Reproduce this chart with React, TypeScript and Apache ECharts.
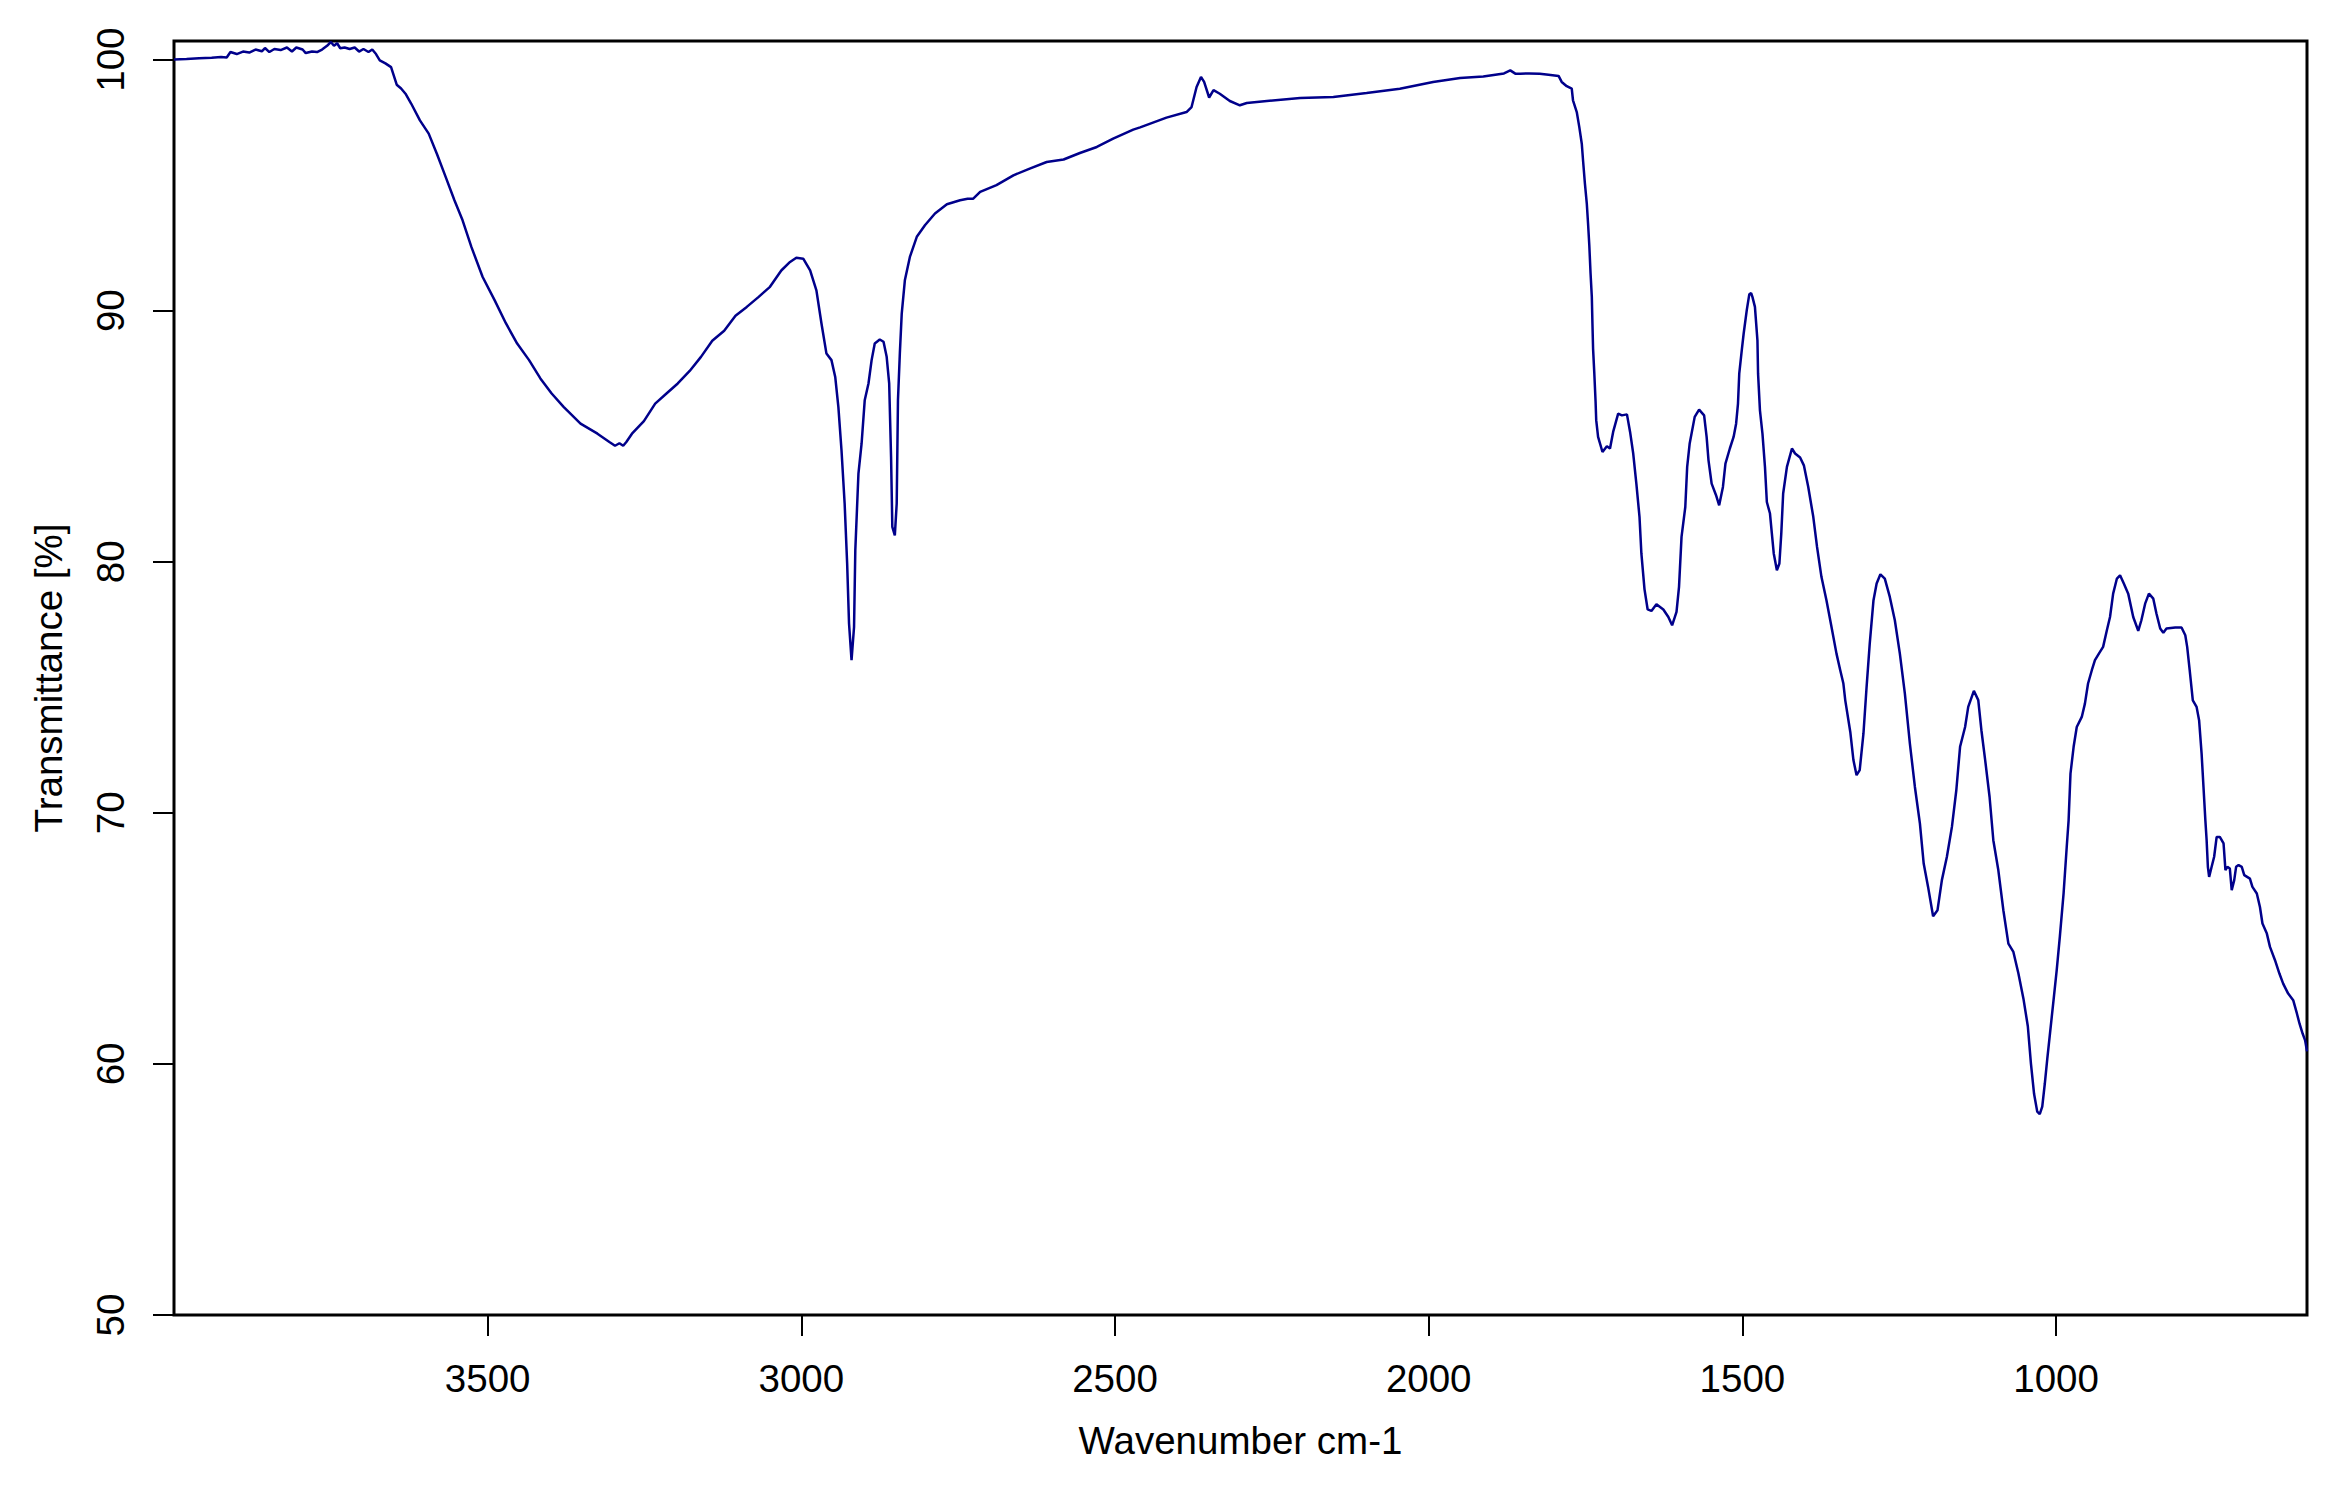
import React, { useEffect, useRef } from "react";
import * as echarts from "echarts";

// Wavenumber (cm-1) and transmittance (%)
const wavenumbers: number[] = [
  4000, 3980, 3960, 3940, 3925, 3916, 3910, 3900, 3890, 3880, 3870, 3860, 3855, 3848, 3840, 3830, 3820, 3812, 3805, 3795,
  3790, 3780, 3772, 3764, 3756, 3750, 3745, 3740, 3735, 3728, 3720, 3712, 3705, 3698, 3690, 3684, 3678, 3672, 3663, 3654,
  3645, 3638, 3631, 3622, 3608, 3594, 3581, 3567, 3553, 3540, 3526, 3508, 3489, 3471, 3453, 3434, 3416, 3398, 3379, 3352,
  3325, 3306, 3297, 3290, 3284, 3279, 3270, 3251, 3233, 3215, 3197, 3178, 3160, 3142, 3123, 3105, 3087, 3068, 3050, 3032,
  3018, 3008, 2997, 2986, 2976, 2968, 2960, 2952, 2946, 2941, 2936, 2931, 2927, 2924, 2920, 2916, 2914, 2909, 2904, 2899,
  2893, 2888, 2883, 2875, 2869, 2864, 2860, 2857, 2855, 2851, 2848, 2846, 2843, 2840, 2835, 2827, 2816, 2803, 2787, 2768,
  2747, 2735, 2726, 2715, 2689, 2662, 2636, 2609, 2582, 2556, 2529, 2503, 2471, 2460, 2418, 2386, 2378, 2370, 2363, 2358,
  2350, 2343, 2333, 2317, 2301, 2290, 2258, 2205, 2152, 2099, 2046, 1993, 1950, 1913, 1880, 1870, 1862, 1854, 1840, 1823,
  1809, 1793, 1788, 1780, 1772, 1770, 1764, 1760, 1756, 1754, 1751, 1748, 1746, 1744, 1742, 1740, 1739, 1738, 1736, 1734,
  1733, 1730, 1723, 1716, 1711, 1706, 1698, 1692, 1684, 1679, 1674, 1669, 1664, 1661, 1656, 1651, 1645, 1637, 1626, 1618,
  1612, 1605, 1601, 1597, 1591, 1588, 1584, 1576, 1569, 1561, 1557, 1554, 1549, 1542, 1537, 1531, 1527, 1520, 1514, 1510,
  1507, 1505, 1501, 1498, 1493, 1489, 1486, 1484, 1480, 1476, 1475, 1472, 1468, 1464, 1461, 1456, 1453, 1450, 1445, 1441,
  1438, 1435, 1429, 1421, 1416, 1408, 1402, 1395, 1387, 1381, 1374, 1366, 1358, 1350, 1344, 1339, 1336, 1328, 1323, 1318,
  1313, 1307, 1302, 1297, 1291, 1286, 1280, 1273, 1265, 1257, 1249, 1241, 1233, 1225, 1217, 1211, 1204, 1196, 1189, 1182,
  1174, 1166, 1159, 1153, 1145, 1140, 1131, 1124, 1119, 1113, 1106, 1100, 1092, 1084, 1076, 1068, 1060, 1052, 1045, 1040,
  1035, 1030, 1026, 1022, 1018, 1014, 1010, 1004, 999, 994, 988, 983, 980, 977, 972, 967, 959, 954, 949, 943,
  938, 931, 925, 919, 914, 909, 903, 898, 892, 885, 877, 869, 864, 858, 852, 845, 840, 834, 829, 824,
  810, 800, 794, 791, 787, 782, 776, 772, 768, 765, 762, 760, 758, 756, 752, 748, 744, 739, 733, 730,
  727, 723, 720, 716, 713, 709, 704, 700, 691, 687, 680, 675, 671, 664, 659, 651, 644, 638, 630, 622,
  616, 612, 607, 603, 600,
];

const transmittance: number[] = [
  100.0, 100.02, 100.05, 100.07, 100.1, 100.08, 100.3, 100.22, 100.32, 100.28, 100.4, 100.33, 100.46, 100.3, 100.42, 100.38, 100.48, 100.32, 100.48, 100.4,
  100.26, 100.32, 100.3, 100.4, 100.55, 100.7, 100.55, 100.65, 100.45, 100.48, 100.42, 100.48, 100.32, 100.42, 100.3, 100.4, 100.22, 99.97, 99.85, 99.7,
  99.0, 98.85, 98.64, 98.25, 97.58, 97.05, 96.25, 95.33, 94.4, 93.6, 92.54, 91.34, 90.42, 89.5, 88.69, 88.03, 87.3, 86.7, 86.17, 85.5,
  85.1, 84.77, 84.62, 84.72, 84.62, 84.77, 85.1, 85.6, 86.3, 86.7, 87.1, 87.6, 88.16, 88.8, 89.2, 89.8, 90.15, 90.55, 90.95, 91.6,
  91.94, 92.11, 92.07, 91.6, 90.81, 89.5, 88.29, 88.03, 87.36, 86.17, 84.44, 82.32, 79.93, 77.54, 76.08, 77.4, 80.46, 83.51, 84.7, 86.43,
  87.1, 88.03, 88.69, 88.85, 88.76, 88.16, 87.1, 84.17, 81.39, 81.05, 82.32, 86.43, 88.3, 89.88, 91.21, 92.14, 92.94, 93.4, 93.87, 94.24,
  94.4, 94.46, 94.46, 94.73, 95.0, 95.39, 95.66, 95.92, 96.02, 96.28, 96.52, 96.85, 97.21, 97.3, 97.69, 97.91, 98.11, 98.91, 99.31, 99.11,
  98.49, 98.78, 98.64, 98.35, 98.18, 98.27, 98.35, 98.47, 98.51, 98.67, 98.84, 99.11, 99.27, 99.33, 99.45, 99.57, 99.44, 99.44, 99.45, 99.44,
  99.4, 99.35, 99.11, 98.94, 98.84, 98.38, 97.91, 97.32, 96.65, 95.99, 95.06, 94.26, 93.47, 92.6, 91.48, 90.55, 89.48, 88.49, 87.49, 86.37,
  85.64, 84.97, 84.37, 84.6, 84.51, 85.17, 85.9, 85.83, 85.87, 85.17, 84.31, 83.11, 81.79, 80.33, 78.9, 78.1, 78.04, 78.31, 78.1, 77.8,
  77.47, 78.0, 79.0, 80.99, 82.18, 83.78, 84.71, 85.77, 86.06, 85.83, 84.97, 84.04, 83.11, 82.65, 82.25, 82.98, 83.91, 84.51, 84.97, 85.5,
  86.3, 87.49, 88.42, 89.08, 90.02, 90.65, 90.7, 90.55, 90.15, 88.82, 87.49, 86.03, 85.1, 83.78, 82.38, 81.92, 81.12, 80.33, 79.66, 79.93,
  81.12, 82.72, 83.78, 84.51, 84.31, 84.15, 83.84, 82.98, 81.79, 80.59, 79.4, 78.47, 77.41, 76.34, 75.68, 75.15, 74.48, 73.22, 72.1, 71.5,
  71.7, 73.16, 75.02, 76.74, 78.47, 79.13, 79.5, 79.33, 78.6, 77.67, 76.34, 74.75, 72.76, 71.03, 69.57, 67.98, 67.05, 65.88, 66.12, 67.32,
  68.25, 69.44, 70.9, 72.63, 73.42, 74.22, 74.86, 74.49, 73.29, 72.1, 70.64, 68.91, 67.71, 66.12, 64.79, 64.46, 63.6, 62.6, 61.5, 60.0,
  58.8, 58.1, 58.0, 58.3, 59.2, 60.2, 61.14, 62.54, 63.73, 65.06, 66.79, 68.64, 69.7, 71.56, 72.63, 73.42, 73.82, 74.35, 75.15, 75.68,
  76.08, 76.37, 76.61, 77.27, 77.8, 78.73, 79.33, 79.46, 79.13, 78.73, 77.8, 77.25, 77.67, 78.33, 78.73, 78.53, 77.94, 77.34, 77.17, 77.34,
  77.38, 77.38, 77.07, 76.61, 75.68, 74.48, 74.22, 73.69, 72.36, 71.03, 69.7, 68.91, 67.85, 67.45, 67.85, 68.25, 69.04, 69.04, 68.78, 67.72,
  67.85, 67.78, 66.92, 67.32, 67.85, 67.92, 67.85, 67.52, 67.38, 67.05, 66.79, 66.25, 65.59, 65.19, 64.66, 64.13, 63.6, 63.2, 62.8, 62.54,
  62.0, 61.61, 61.21, 60.94, 60.5,
];

const xTickValues: number[] = [1000, 1500, 2000, 2500, 3000, 3500];
const yTickValues: number[] = [50, 60, 70, 80, 90, 100];

const X_MIN = 600;
const X_MAX = 4000;
const Y_MIN = 50;
const Y_MAX = 100.74;

const FONT = "'Liberation Sans', Arial, Helvetica, sans-serif";

export default function App() {
  const ref = useRef<HTMLDivElement | null>(null);

  useEffect(() => {
    if (!ref.current) return;
    const chart = echarts.init(ref.current, null, { renderer: "svg" });
    const data = wavenumbers.map((w, i) => [w, transmittance[i]]);
    chart.setOption({
      animation: false,
      backgroundColor: "#ffffff",
      grid: {
        left: 174,
        right: 28,
        top: 41,
        bottom: 170,
        show: true,
        borderColor: "#000000",
        borderWidth: 3,
        backgroundColor: "transparent",
      },
      xAxis: {
        type: "value",
        inverse: true,
        min: X_MIN,
        max: X_MAX,
        name: "Wavenumber cm-1",
        nameLocation: "middle",
        nameGap: 106,
        nameTextStyle: { fontFamily: FONT, fontSize: 38.5, color: "#000" },
        axisLine: { show: false },
        splitLine: { show: false },
        axisTick: {
          show: true,
          inside: false,
          length: 21,
          customValues: xTickValues,
          lineStyle: { color: "#000", width: 2 },
        },
        axisLabel: {
          show: true,
          margin: 44,
          customValues: xTickValues,
          formatter: (v: number) => String(v),
          fontFamily: FONT,
          fontSize: 38.5,
          color: "#000",
        },
      },
      yAxis: {
        type: "value",
        min: Y_MIN,
        max: Y_MAX,
        name: "Transmittance [%]",
        nameLocation: "middle",
        nameGap: 106,
        nameTextStyle: { fontFamily: FONT, fontSize: 38.5, color: "#000" },
        axisLine: { show: false },
        splitLine: { show: false },
        axisTick: {
          show: true,
          inside: false,
          length: 21,
          customValues: yTickValues,
          lineStyle: { color: "#000", width: 2 },
        },
        axisLabel: {
          show: true,
          rotate: 90,
          margin: 44,
          customValues: yTickValues,
          formatter: (v: number) => String(v),
          fontFamily: FONT,
          fontSize: 38.5,
          color: "#000",
        },
      },
      series: [
        {
          type: "line",
          data,
          showSymbol: false,
          symbol: "none",
          smooth: false,
          clip: true,
          lineStyle: { color: "#00008B", width: 2.5 },
        },
      ],
    });
    return () => {
      chart.dispose();
    };
  }, []);

  return (
    <div
      ref={ref}
      style={{
        position: "fixed",
        left: 0,
        top: 0,
        width: "2335px",
        height: "1485px",
        background: "#fff",
      }}
    />
  );
}
